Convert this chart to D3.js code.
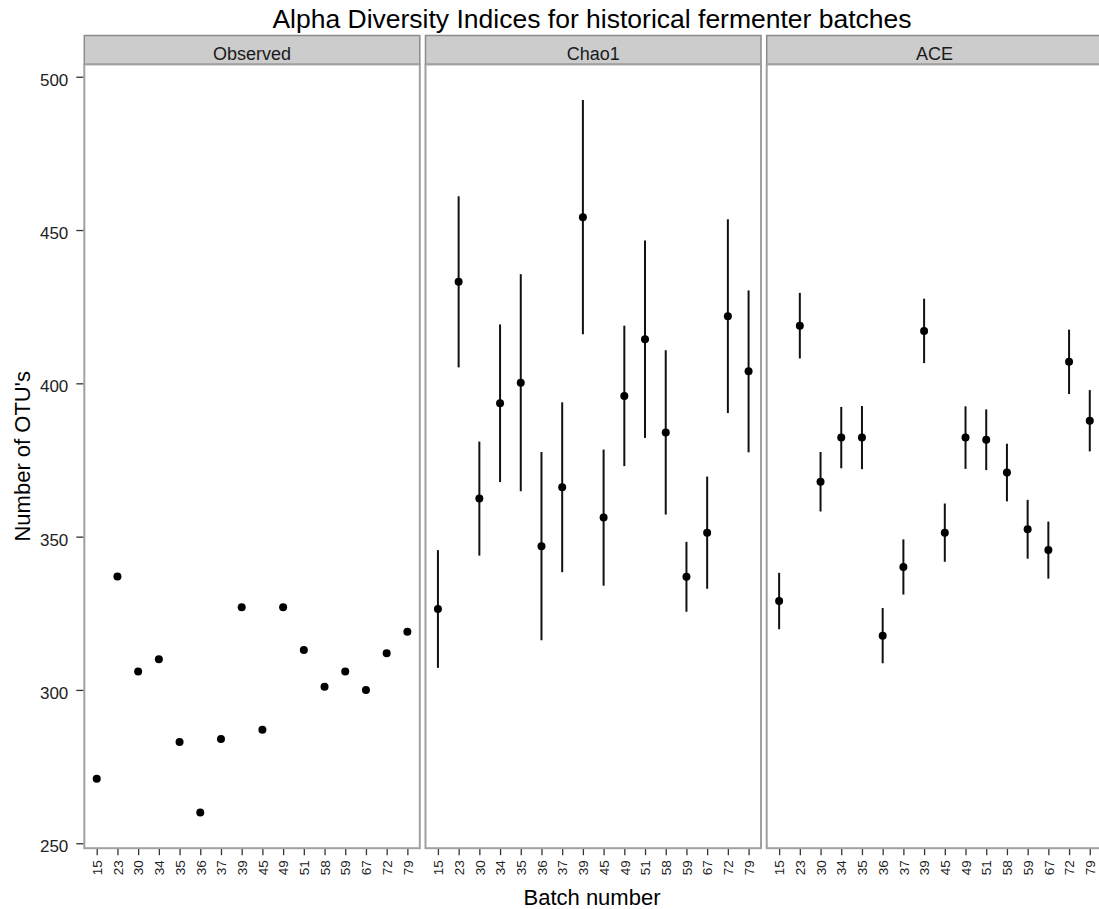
<!DOCTYPE html>
<html>
<head>
<meta charset="utf-8">
<script src="https://cdn.jsdelivr.net/npm/d3@7"></script>
<style>
  html, body { margin: 0; padding: 0; background: #fff; }
  svg { display: block; font-family: "Liberation Sans", Arial, sans-serif; }
</style>
</head>
<body>
<svg id="chart" width="1099" height="909"></svg>
<script>
// Batch labels (x categories)
const batches = ["15","23","30","34","35","36","37","39","45","49","51","58","59","67","72","79"];

// Observed richness per batch
const observed = [271,337,306,310,283,260,284,327,287,327,313,301,306,300,312,319];

// Chao1 estimate and standard error
const chao1   = [326.4,433.1,362.4,393.5,400.2,346.9,366.1,454.2,356.2,395.9,414.4,384.0,336.9,351.3,421.9,403.9];
const chao1Se = [19.2,27.9,18.6,25.7,35.4,30.7,27.7,38.2,22.2,22.9,32.2,26.8,11.4,18.3,31.6,26.4];

// ACE estimate and standard error
const ace   = [329.0,418.8,367.9,382.3,382.3,317.7,340.1,417.1,351.3,382.3,381.6,370.9,352.4,345.6,407.0,387.8];
const aceSe = [9.2,10.7,9.7,10.0,10.3,9.0,9.0,10.5,9.5,10.2,9.9,9.4,9.6,9.3,10.5,10.0];

const facetNames = ["Observed","Chao1","ACE"];
const yTicks = [250,300,350,400,450,500];

const facets = [
  { name: facetNames[0], vals: observed, se: null },
  { name: facetNames[1], vals: chao1, se: chao1Se },
  { name: facetNames[2], vals: ace, se: aceSe }
];

const svg = d3.select("#chart");

// layout
const panelLeft = 84.3, panelW = 335.5, panelStep = 341.2;
const stripTop = 35.5, stripH = 28.9;
const panelTop = stripTop + stripH, panelBottom = 848.2;
const centerX = 592;

// shared y scale with 5% expansion of the data range (incl. error bars)
let lo = Infinity, hi = -Infinity;
facets.forEach(f => f.vals.forEach((v, i) => {
  const e = f.se ? f.se[i] : 0;
  lo = Math.min(lo, v - e); hi = Math.max(hi, v + e);
}));
const pad = (hi - lo) * 0.05;
const y = d3.scaleLinear().domain([lo - pad, hi + pad]).range([panelBottom, panelTop]);

// title
svg.append("text")
  .attr("x", centerX)
  .attr("y", 28)
  .attr("text-anchor", "middle")
  .attr("font-size", 26.5)
  .attr("fill", "#000")
  .text("Alpha Diversity Indices for historical fermenter batches");

facets.forEach((f, k) => {
  const x0 = panelLeft + k * panelStep;
  const x = d3.scalePoint().domain(batches).range([x0, x0 + panelW]).padding(0.6);
  const g = svg.append("g");

  // strip
  g.append("rect")
    .attr("x", x0).attr("y", stripTop)
    .attr("width", panelW).attr("height", stripH)
    .attr("fill", "#cccccc").attr("stroke", "#8c8c8c").attr("stroke-width", 1.5);
  g.append("text")
    .attr("x", x0 + panelW / 2).attr("y", 59.5)
    .attr("text-anchor", "middle").attr("font-size", 18).attr("fill", "#1a1a1a")
    .text(f.name);

  // panel background
  g.append("rect")
    .attr("x", x0).attr("y", panelTop)
    .attr("width", panelW).attr("height", panelBottom - panelTop)
    .attr("fill", "#fff");

  // x axis
  const xa = g.append("g")
    .attr("transform", `translate(0,${panelBottom})`)
    .call(d3.axisBottom(x).tickSize(7).tickPadding(3));
  xa.select(".domain").remove();
  xa.selectAll(".tick line").attr("stroke", "#333").attr("stroke-width", 1.3);
  xa.selectAll(".tick text")
    .attr("font-size", 13.5).attr("fill", "#222")
    .attr("transform", "rotate(-90)")
    .attr("text-anchor", "end")
    .attr("x", -12).attr("y", 0).attr("dy", "0.35em");

  // error bars
  if (f.se) {
    g.selectAll("line.err").data(f.vals).enter().append("line")
      .attr("class", "err")
      .attr("x1", (d, i) => x(batches[i])).attr("x2", (d, i) => x(batches[i]))
      .attr("y1", (d, i) => y(d + f.se[i])).attr("y2", (d, i) => y(d - f.se[i]))
      .attr("stroke", "#111").attr("stroke-width", 2);
  }

  // points
  g.selectAll("circle").data(f.vals).enter().append("circle")
    .attr("cx", (d, i) => x(batches[i]))
    .attr("cy", d => y(d))
    .attr("r", 4)
    .attr("fill", "#000");

  // panel border
  g.append("rect")
    .attr("x", x0).attr("y", panelTop)
    .attr("width", panelW).attr("height", panelBottom - panelTop)
    .attr("fill", "none").attr("stroke", "#a0a0a0").attr("stroke-width", 2);
});

// y axis
const ya = svg.append("g")
  .attr("transform", `translate(${panelLeft - 1},0)`)
  .call(d3.axisLeft(y).tickValues(yTicks).tickSize(7).tickPadding(8));
ya.select(".domain").remove();
ya.selectAll(".tick line").attr("stroke", "#333").attr("stroke-width", 1.3);
ya.selectAll(".tick text").attr("font-size", 17).attr("fill", "#222").attr("dy", "0.5em");

// axis titles
svg.append("text")
  .attr("x", centerX)
  .attr("y", 905)
  .attr("text-anchor", "middle").attr("font-size", 22).attr("fill", "#000")
  .text("Batch number");

svg.append("text")
  .attr("transform", `translate(30,${(panelTop + panelBottom) / 2}) rotate(-90)`)
  .attr("text-anchor", "middle").attr("font-size", 22).attr("fill", "#000")
  .text("Number of OTU's");
</script>
</body>
</html>
